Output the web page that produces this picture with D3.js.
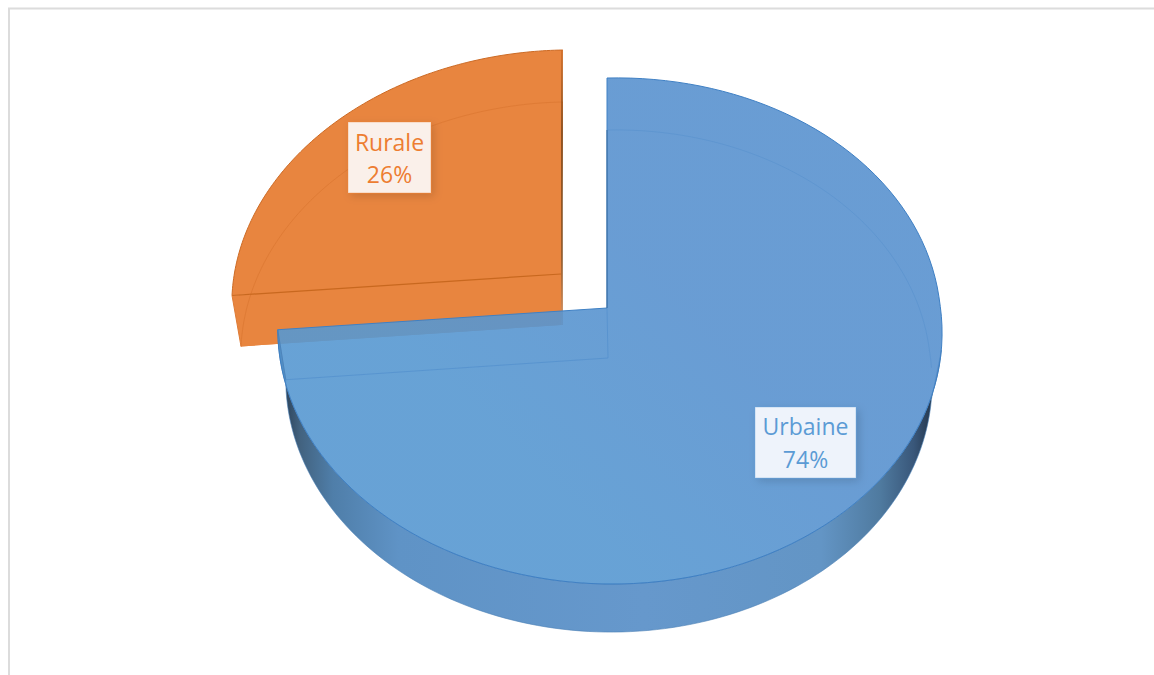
<!DOCTYPE html>
<html>
<head>
<meta charset="utf-8">
<script src="https://cdn.jsdelivr.net/npm/d3@7"></script>
<style>
  html, body { margin: 0; padding: 0; background: #fff; }
  svg { display: block; }
  text { font-family: "Open Sans", sans-serif; font-size: 23px; text-anchor: middle; }
</style>
</head>
<body>
<svg id="chart" width="1154" height="675"></svg>
<script>
// Pie content
const categories = ["Urbaine", "Rurale"];
const shares = [74, 26];
const shareLabels = ["74%", "26%"];

const svg = d3.select("#chart");
const defs = svg.append("defs");

// Chart area frame: top and left rules only, the rest runs off the page
svg.append("path")
  .attr("d", "M9,675V8.5H1154")
  .attr("fill", "none")
  .attr("stroke", "#dcdcdc")
  .attr("stroke-width", 2);

// Each disc face is a perspective view of the unit circle, described by the
// apex on screen and its reach in the four directions. The lean terms tilt the
// disc slightly; frontLean only acts on the half nearest the viewer.
function face({ cx, cy, up, down, left, right, shearY = 0, shearX = 0, frontLean = 0 }) {
  const k = (down - up) / (down + up);
  const m = (right - left) / (right + left);
  const A = up * (1 + k);
  const B = right * (1 - m) * Math.sqrt(1 - k * k);
  return a => {
    const u = Math.sin(a), v = -Math.cos(a);
    const w = 1 - k * v - m * u;
    const lean = shearX * v + frontLean * Math.max(v, 0);
    return [cx + (B * u + lean) / w, cy + (A * v + shearY * u) / w];
  };
}

const urbanTop = face({ cx: 607, cy: 308, up: 230, down: 276, left: 330, right: 334, shearY: -6, frontLean: 10 });
const urbanBase = face({ cx: 608, cy: 358, up: 228, down: 274, left: 323, right: 323, shearY: -6, frontLean: 10 });
const ruralTop = face({ cx: 561, cy: 274, up: 224, down: 270, left: 329, right: 329, shearY: -6, shearX: -2 });
const ruralBase = face({ cx: 561, cy: 325, up: 223, down: 269, left: 320, right: 320, shearY: -6, shearX: -2 });

const arcs = d3.pie().sort(null).value(d => d)(shares);
const urban = arcs[0], rural = arcs[1];

const line = d3.line();
const sweep = (proj, a0, a1) =>
  d3.range(0, 121).map(i => proj(a0 + (a1 - a0) * i / 120));
const sector = (proj, centre, a0, a1) =>
  line([centre, ...sweep(proj, a0, a1)]) + "Z";

// Colours
const orange = "#e8853f";
const orangeEdge = "#cc6a24";
const blueEdge = "#3f80c4";

// Side wall shading, dark at both ends of the visible rim
const wallGrad = defs.append("linearGradient")
  .attr("id", "wall").attr("gradientUnits", "userSpaceOnUse")
  .attr("x1", 280).attr("x2", 940).attr("y1", 0).attr("y2", 0);
[[0, "#263a50"], [0.03, "#42627f"], [0.08, "#4f7ea9"], [0.18, "#5f93c6"],
 [0.55, "#6698cc"], [0.82, "#6395c5"], [0.91, "#4f7a9f"], [0.96, "#39577a"], [1, "#1c2a3a"]]
  .forEach(([o, c]) => wallGrad.append("stop").attr("offset", o).attr("stop-color", c));

// Upper face shading
const topGrad = defs.append("linearGradient")
  .attr("id", "topFace").attr("gradientUnits", "userSpaceOnUse")
  .attr("x1", 560).attr("y1", 500).attr("x2", 720).attr("y2", 340);
topGrad.append("stop").attr("offset", 0).attr("stop-color", "#5798d1");
topGrad.append("stop").attr("offset", 1).attr("stop-color", "#5992cf");

// Dark inner edge where the slices were pulled apart
const seamGrad = defs.append("linearGradient")
  .attr("id", "seam").attr("gradientUnits", "userSpaceOnUse")
  .attr("x1", 0).attr("x2", 0).attr("y1", 50).attr("y2", 325);
[[0, orangeEdge], [0.3, "#6e3d12"], [0.75, "#7a4414"], [1, orangeEdge]]
  .forEach(([o, c]) => seamGrad.append("stop").attr("offset", o).attr("stop-color", c));

// Label card shadow
const shadow = defs.append("filter").attr("id", "cardShadow")
  .attr("x", "-30%").attr("y", "-30%").attr("width", "160%").attr("height", "160%");
shadow.append("feDropShadow")
  .attr("dx", 3).attr("dy", 3).attr("stdDeviation", 4)
  .attr("flood-color", "#000").attr("flood-opacity", 0.14);

// Rural slice: base, radial wall and upper face
const ruralG = svg.append("g");
const r0 = rural.startAngle, r1 = rural.endAngle;
ruralG.append("path").attr("d", sector(ruralBase, [561, 325], r0, r1)).attr("fill", orange);
ruralG.append("path")
  .attr("d", line([ruralTop(r0), [561, 274], ruralTop(r1), ruralBase(r1), [561, 325], ruralBase(r0)]) + "Z")
  .attr("fill", orange);
ruralG.append("path").attr("d", sector(ruralTop, [561, 274], r0, r1)).attr("fill", orange);
ruralG.append("path")
  .attr("d", line(sweep(ruralBase, r0, r1)))
  .attr("fill", "none").attr("stroke", "#df7b35").attr("stroke-width", 1);
ruralG.append("path")
  .attr("d", line(sweep(ruralTop, r0, r1)))
  .attr("fill", "none").attr("stroke", orangeEdge).attr("stroke-width", 1);
ruralG.append("path")
  .attr("d", line([ruralTop(r0), [561, 274]]))
  .attr("fill", "none").attr("stroke", "#c8681f").attr("stroke-width", 1.2);
ruralG.append("path")
  .attr("d", line([ruralBase(r0), ruralTop(r0)]))
  .attr("fill", "none").attr("stroke", "#df7b35").attr("stroke-width", 1);
ruralG.append("rect")
  .attr("x", 561.3).attr("y", 50).attr("width", 1.4).attr("height", 275)
  .attr("fill", "url(#seam)");

// Urban slice: outer wall, then the translucent upper face
const urbanG = svg.append("g");
const u0 = urban.startAngle, u1 = urban.endAngle;
const wallStart = Math.PI * 0.56;
urbanG.append("path")
  .attr("d", line([...sweep(urbanTop, wallStart, u1), ...sweep(urbanBase, wallStart, u1).reverse()]) + "Z")
  .attr("fill", "url(#wall)")
  .attr("stroke", "#4a7fb5").attr("stroke-width", 0.6);
urbanG.append("path")
  .attr("d", sector(urbanTop, [607, 308], u0, u1))
  .attr("fill", "url(#topFace)")
  .attr("fill-opacity", 0.9);
urbanG.append("path")
  .attr("d", sector(urbanTop, [607, 308], u0, u1))
  .attr("fill", "none")
  .attr("stroke", blueEdge).attr("stroke-width", 1);

// Base outline showing through the upper face
urbanG.append("path")
  .attr("d", line([...sweep(urbanBase, u0, Math.PI * 0.52)]))
  .attr("fill", "none").attr("stroke", "#4f8ccb").attr("stroke-opacity", 0.4);
urbanG.append("path")
  .attr("d", line([urbanBase(u1), [608, 358], [607, 308]]))
  .attr("fill", "none").attr("stroke", "#4f8ccb").attr("stroke-opacity", 0.6);
urbanG.append("path")
  .attr("d", line([urbanTop(u1), urbanBase(u1)]))
  .attr("fill", "none").attr("stroke", "#4a7fb5").attr("stroke-width", 0.8);
urbanG.append("path")
  .attr("d", line([[607, 130], [607, 308]]))
  .attr("fill", "none").attr("stroke", "#3a6c9e").attr("stroke-width", 1);

// Data labels on white cards
const cards = [
  { index: 1, box: [348, 122, 83, 71], lines: [151, 183], colour: "#ed7d31" },
  { index: 0, box: [755, 407, 101, 71], lines: [435, 468], colour: "#5b9bd5" }
];
cards.forEach(c => {
  const g = svg.append("g");
  const [x, y, w, h] = c.box;
  const cardFill = c.index === 1 ? "#faf0ea" : "#eef3fb";
  g.append("rect")
    .attr("x", x).attr("y", y).attr("width", w).attr("height", h)
    .attr("fill", cardFill)
    .attr("stroke", c.colour).attr("stroke-opacity", 0.35).attr("stroke-width", 1)
    .attr("filter", "url(#cardShadow)");
  g.append("text").attr("x", x + w / 2).attr("y", c.lines[0])
    .attr("fill", c.colour).text(categories[c.index]);
  g.append("text").attr("x", x + w / 2).attr("y", c.lines[1])
    .attr("fill", c.colour).text(shareLabels[c.index]);
});
</script>
</body>
</html>
